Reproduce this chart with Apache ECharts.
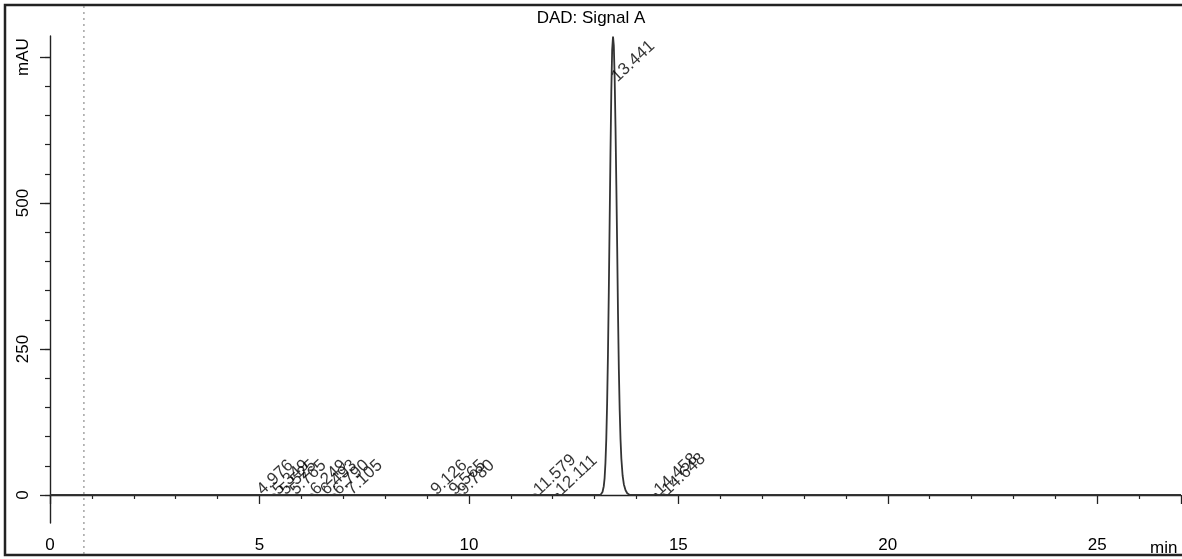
<!DOCTYPE html>
<html><head><meta charset="utf-8">
<script src="https://cdn.jsdelivr.net/npm/echarts@6/dist/echarts.min.js"></script>
<style>html,body{margin:0;padding:0;background:#fff}#c{width:1182px;height:559px}</style>
</head><body><div id="c"></div>
<script>
// ---- data ----
const titleText = 'DAD: Signal A';
const xUnit = 'min';
const signalT = [0, 4.93, 4.976, 5.02, 5.30, 5.349, 5.40, 5.48, 5.525, 5.57, 5.72, 5.765, 5.81,
  6.20, 6.249, 6.30, 6.45, 6.493, 6.54, 6.74, 6.790, 6.84, 7.06, 7.105, 7.15,
  9.08, 9.126, 9.17, 9.52, 9.565, 9.61, 9.73, 9.780, 9.83, 11.53, 11.579, 11.63, 12.06, 12.111, 12.16,
  13.14, 13.19, 13.22, 13.24, 13.26, 13.28, 13.30, 13.32, 13.34, 13.36, 13.38, 13.40, 13.42, 13.441,
  13.46, 13.48, 13.50, 13.52, 13.54, 13.56, 13.58, 13.60, 13.62, 13.64, 13.67, 13.70, 13.74, 13.78, 13.84,
  14.41, 14.458, 14.51, 14.60, 14.648, 14.70, 27];
const signalV = [0, 0, 2, 0, 0, 1, 0, 0, 2, 0, 0, 2, 0,
  0, 1, 0, 0, 2, 0, 0, 1, 0, 0, 2, 0,
  0, 1, 0, 0, 2, 0, 0, 1, 0, 0, 1, 0, 0, 2, 0,
  0, 5, 15, 29, 55, 96, 157, 241, 347, 466, 586, 691, 762, 785,
  769, 714, 631, 531, 425, 310, 215, 145, 95, 62, 33, 18, 8, 3, 0,
  0, 2, 0, 0, 1, 0, 0];
const peakTimes = [4.976, 5.349, 5.525, 5.765, 6.249, 6.493, 6.790, 7.105, 9.126, 9.565, 9.780, 11.579, 12.111, 13.441, 14.458, 14.648];
const peakLabels = ['4.976', '5.349', '5.525', '5.765', '6.249', '6.493', '6.790', '7.105', '9.126', '9.565', '9.780', '11.579', '12.111', '13.441', '14.458', '14.648'];
const injectionMarks = [0.81];
const yMajorTicks = [0, 250, 500, 750];
const yTickLabels = ['0', '250', '500', 'mAU'];
const yMinorTicks = [0, 50, 100, 150, 200, 250, 300, 350, 400, 450, 500, 550, 600, 650, 700, 750];
const xMin = 0, xMax = 27, xStep = 5;
const yMin = -48, yMax = 786;

// ---- chart ----
const FONT = '"Liberation Sans", Arial, sans-serif';
const AX = '#222';
const TXT = '#000';
const chart = echarts.init(document.getElementById('c'), null, {renderer: 'canvas'});

const line = signalT.map((t, i) => [t, signalV[i]]);
const heightAt = t => { const i = signalT.indexOf(t); return i >= 0 ? signalV[i] : 0; };
const labelPts = peakTimes.map(t => { const h = heightAt(t); return [t, h > 100 ? h - 74 : 4]; });

chart.setOption({
  animation: false,
  backgroundColor: '#fff',
  title: {text: titleText, left: 'center', top: 5,
    textStyle: {fontFamily: FONT, fontSize: 17, fontWeight: 'normal', color: TXT}},
  grid: {left: 50, right: 1, top: 36, bottom: 36, outerBoundsMode: 'none'},
  xAxis: {type: 'value', min: xMin, max: xMax, interval: xStep,
    axisLine: {lineStyle: {color: AX, width: 1.4}},
    axisTick: {length: 9, lineStyle: {color: AX, width: 1.3}},
    minorTick: {show: true, splitNumber: 5, length: 4, lineStyle: {color: AX, width: 1.2}},
    splitLine: {show: false}, minorSplitLine: {show: false},
    axisLabel: {fontFamily: FONT, fontSize: 17, color: TXT, margin: 14,
      formatter: v => (v % xStep === 0 ? String(v) : '')}},
  yAxis: [
    {type: 'value', min: yMin, max: yMax, position: 'left',
      axisLine: {show: true, lineStyle: {color: AX, width: 1.4}},
      axisTick: {show: true, length: 10, customValues: yMajorTicks, lineStyle: {color: AX, width: 1.3}},
      axisLabel: {show: true, customValues: yMajorTicks, rotate: 90, margin: 18,
        fontFamily: FONT, fontSize: 17, color: TXT,
        formatter: v => yTickLabels[yMajorTicks.indexOf(v)] ?? ''},
      splitLine: {show: false}},
    {type: 'value', min: yMin, max: yMax, position: 'left', offset: 0,
      axisLine: {show: false},
      axisTick: {show: true, length: 5, customValues: yMinorTicks, lineStyle: {color: AX, width: 1.2}},
      axisLabel: {show: false}, splitLine: {show: false}}
  ],
  series: [
    {type: 'line', data: line, showSymbol: false, symbol: 'none', yAxisIndex: 0,
      lineStyle: {color: '#333', width: 1.8}, z: 3},
    {type: 'scatter', data: labelPts, yAxisIndex: 0, symbolSize: 1,
      itemStyle: {color: 'rgba(0,0,0,0)'},
      label: {show: true, position: 'right', distance: 0, rotate: 43, align: 'left', verticalAlign: 'middle',
        offset: [1, 0], fontFamily: FONT, fontSize: 17, color: TXT,
        formatter: p => peakLabels[p.dataIndex]}, z: 4}
  ]
});

const gfx = [
  {type: 'rect', shape: {x: 5, y: 5, width: 1190, height: 550}, style: {fill: 'none', stroke: '#222', lineWidth: 2.5}, silent: true},
  {type: 'text', x: 1150, y: 540, style: {text: xUnit, font: '17px ' + FONT, fill: TXT}, silent: true}
];
injectionMarks.forEach(t => {
  const px = chart.convertToPixel({xAxisIndex: 0}, t);
  gfx.push({type: 'line', shape: {x1: px, y1: 6, x2: px, y2: 554},
    style: {stroke: '#777', lineWidth: 1, lineDash: [2, 4]}, silent: true, z: 1});
});
chart.setOption({graphic: gfx});
</script></body></html>
